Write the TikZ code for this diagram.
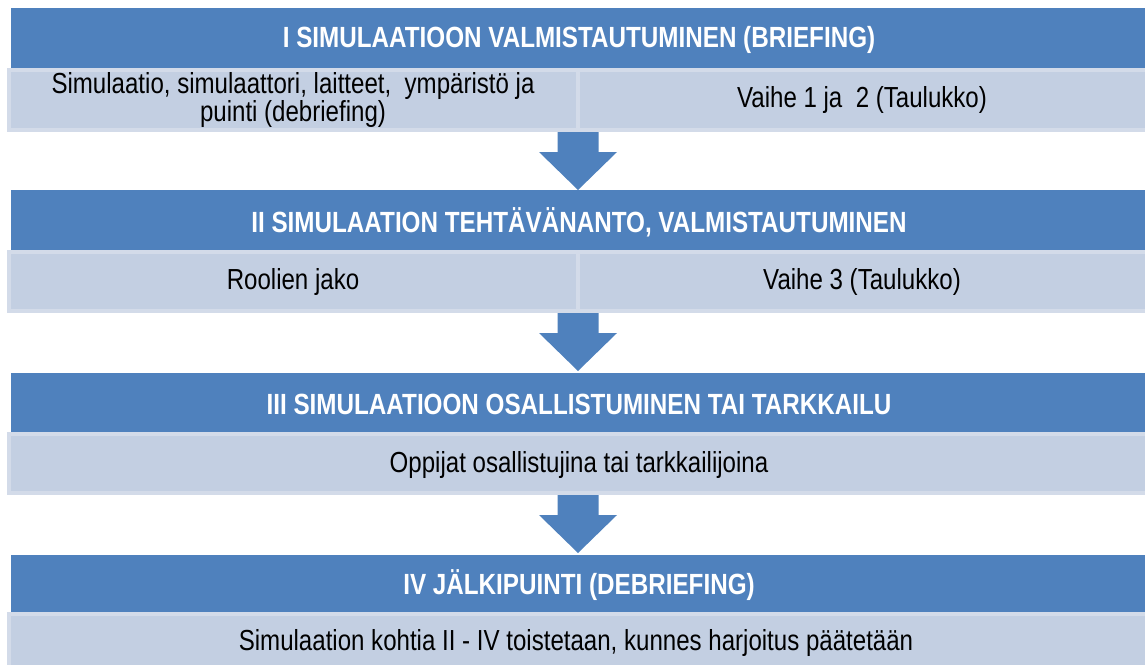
\documentclass[tikz,border=0pt]{standalone}
\usepackage{fontspec}
\setmainfont{Liberation Sans}[FakeStretch=0.83]
\usetikzlibrary{calc}
\definecolor{hdrblue}{RGB}{79,129,189}
\definecolor{lightfill}{RGB}{195,207,226}
\definecolor{lightedge}{RGB}{211,219,233}
\begin{document}
\begin{tikzpicture}[x=1pt,y=1pt,
  hdr/.style={fill=hdrblue, draw=none, anchor=north west, minimum width=1134pt, minimum height=60pt, inner sep=0pt},
  hdrtext/.style={text=white, font=\fontsize{29.2}{28}\selectfont\bfseries, inner sep=0pt},
  lightrow/.style={fill=lightfill, draw=lightedge, line width=4pt, anchor=north west, minimum width=1138pt, inner sep=0pt},
  celltext/.style={font=\fontsize{29}{28}\selectfont, text=black, align=center, inner sep=0pt},
  divider/.style={draw=lightedge, line width=4pt},
  blockarrow/.style={fill=hdrblue, draw=none}
]
\useasboundingbox (0,0) rectangle (1145,-664);
% Row I
\node[hdr] (h1) at (11,-8) {};
\node[hdrtext] (t1) at (579,-40) {I SIMULAATIOON VALMISTAUTUMINEN (BRIEFING)};
\node[lightrow, minimum height=60pt] (r1) at (7,-68) {};
\draw[divider] (r1.north) -- (r1.south);
\node[celltext] (c1a) at (293,-100) {Simulaatio, simulaattori, laitteet,\ \ ympäristö ja\\puinti (debriefing)};
\node[celltext] (c1b) at (862,-100) {Vaihe 1 ja\ \ 2 (Taulukko)};
% Row II
\node[hdr] (h2) at (11,-190) {};
\node[hdrtext] (t2) at (579,-222) {II SIMULAATION TEHTÄVÄNANTO, VALMISTAUTUMINEN};
\node[lightrow, minimum height=59pt] (r2) at (7,-250) {};
\draw[divider] (r2.north) -- (r2.south);
\node[celltext] (c2a) at (293,-282) {Roolien jako};
\node[celltext] (c2b) at (862,-282) {Vaihe 3 (Taulukko)};
% Row III
\node[hdr] (h3) at (11,-373) {};
\node[hdrtext] (t3) at (579,-404) {III SIMULAATIOON OSALLISTUMINEN TAI TARKKAILU};
\node[lightrow, minimum height=59pt] (r3) at (7,-432) {};
\node[celltext] (c3) at (579,-465) {Oppijat osallistujina tai tarkkailijoina};
% Row IV
\node[hdr, minimum height=57pt] (h4) at (11,-555) {};
\node[hdrtext] (t4) at (579,-585) {IV JÄLKIPUINTI (DEBRIEFING)};
\node[lightrow, minimum height=56pt] (r4) at (7,-612) {};
\node[celltext] (c4) at (576,-643) {Simulaation kohtia II - IV toistetaan, kunnes harjoitus päätetään};
% Block arrows
\foreach \r in {r1,r2,r3}{
  \fill[blockarrow] ([xshift=-20.5pt]\r.south) -- ++(41,0) -- ++(0,-20) -- ++(18.5,0) -- ++(-39,-38) -- ++(-39,38) -- ++(18.5,0) -- cycle;
}
\end{tikzpicture}
\end{document}
